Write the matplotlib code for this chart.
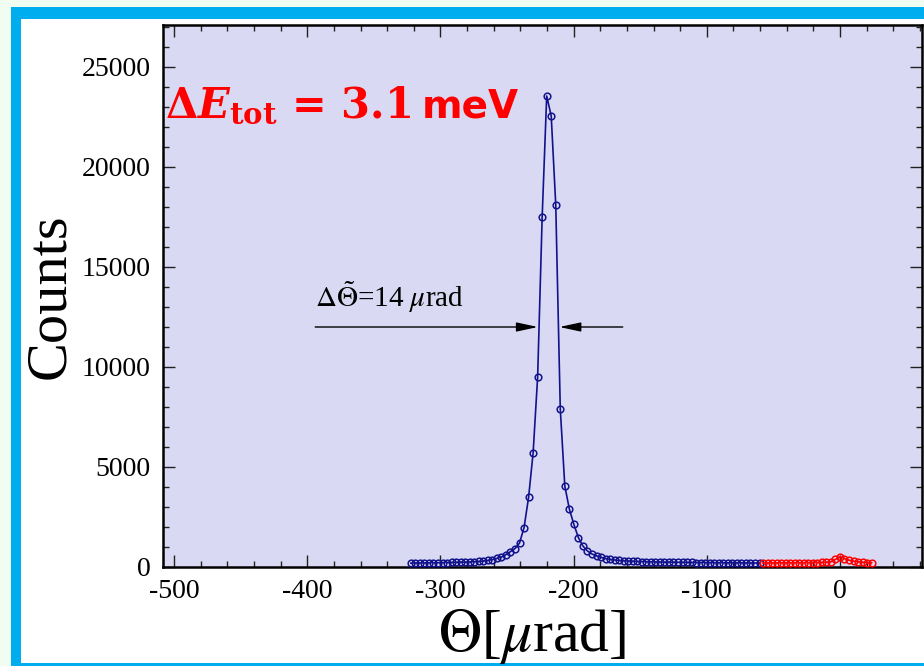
import matplotlib
matplotlib.use('Agg')
import matplotlib.pyplot as plt
import matplotlib.transforms as mtransforms
from matplotlib.patches import Rectangle
from matplotlib.ticker import MultipleLocator

plt.rcParams['font.family'] = ['Liberation Serif', 'DejaVu Serif']
plt.rcParams['mathtext.fontset'] = 'stix'
plt.rcParams['axes.unicode_minus'] = False

# Scan angle (µrad) and counts: main reflection (blue) and reference region (red)
theta_main = [-322.2, -318.8, -315.4, -312.0, -308.6, -305.2, -301.8, -298.4, -295.0, -291.6,
              -288.2, -284.8, -281.4, -278.0, -274.6, -271.2, -267.8, -264.4, -261.0, -257.6,
              -254.2, -250.8, -247.4, -244.0, -240.6, -237.2, -233.8, -230.4, -227.0, -223.6,
              -220.2, -216.8, -213.4, -210.0, -206.6, -203.2, -199.8, -196.4, -193.0, -189.6,
              -186.2, -182.8, -179.4, -176.0, -172.6, -169.2, -165.8, -162.4, -159.0, -155.6,
              -152.2, -148.8, -145.4, -142.0, -138.6, -135.2, -131.8, -128.4, -125.0, -121.6,
              -118.2, -114.8, -111.4, -108.0, -104.6, -101.2, -97.8, -94.4, -91.0, -87.6,
              -84.2, -80.8, -77.4, -74.0, -70.6, -67.2, -63.8, -60.4]
counts_main = [195, 200, 205, 205, 210, 215, 215, 220, 225, 230,
               235, 240, 245, 255, 265, 280, 300, 330, 370, 430,
               500, 620, 770, 920, 1200, 1970, 3480, 5700, 9500, 17500,
               23550, 22550, 18100, 7900, 4050, 2900, 2130, 1470, 1050, 800,
               650, 560, 480, 420, 380, 350, 330, 310, 300, 290,
               280, 270, 265, 260, 255, 250, 245, 245, 240, 235,
               235, 230, 230, 225, 225, 220, 220, 215, 215, 215,
               210, 210, 210, 205, 205, 200, 200, 200]

theta_ref = [-57.8, -54.4, -51.0, -47.6, -44.2, -40.8, -37.4, -34.0, -30.6, -27.2,
             -23.8, -20.4, -17.0, -13.6, -10.2, -6.8, -3.4, 0.0, 3.4, 6.8,
             10.2, 13.6, 17.0, 20.4, 23.8]
counts_ref = [200, 200, 205, 205, 210, 205, 210, 215, 210, 215,
              220, 225, 225, 230, 240, 260, 380, 520, 420, 340,
              290, 260, 240, 225, 215]

xticks = [-500, -400, -300, -200, -100, 0]
xticklabels = ['-500', '-400', '-300', '-200', '-100', '0']
yticks = [0, 5000, 10000, 15000, 20000, 25000]
yticklabels = ['0', '5000', '10000', '15000', '20000', '25000']

W, H = 924, 666
fig = plt.figure(figsize=(W / 100, H / 100), dpi=100)
fig.patch.set_facecolor('#f1fdf1')

# framed panel behind the axes
fig.add_artist(Rectangle((11 / W, 0), 1, 659 / H, transform=fig.transFigure,
                         facecolor='#00aeef', edgecolor='none', zorder=-10))
fig.add_artist(Rectangle((21 / W, 3 / H), 1, 644 / H, transform=fig.transFigure,
                         facecolor='white', edgecolor='none', zorder=-9))

ax = fig.add_axes([163 / W, 99 / H, (922 - 163) / W, 542 / H])
ax.set_facecolor('#d9d9f3')
ax.set_xlim(-508.3, 61.6)
ax.set_ylim(0, 27100)

ax.plot(theta_main, counts_main, color='#12128c', lw=1.2, marker='o', ms=4.8,
        mfc='none', mec='#12128c', mew=1.1, zorder=3)
ax.plot(theta_ref, counts_ref, color='#ff0000', lw=1.2, marker='o', ms=4.8,
        mfc='none', mec='#ff0000', mew=1.1, zorder=3)

ax.set_xticks(xticks)
ax.set_xticklabels(xticklabels)
ax.set_yticks(yticks)
ax.set_yticklabels(yticklabels)
ax.xaxis.set_minor_locator(MultipleLocator(20))
ax.yaxis.set_minor_locator(MultipleLocator(1000))
ax.tick_params(which='both', direction='in', top=True, right=True, width=1.0, color='#222222')
ax.tick_params(which='major', length=8.5, labelsize=20, pad=9)
ax.tick_params(which='minor', length=4.3)
for s in ax.spines.values():
    s.set_linewidth(1.8)
    s.set_color('black')

fig.text(50 / W, 1 - 296 / H, 'Counts', rotation=90, ha='center', va='center', fontsize=42)
fig.text(532 / W, 1 - 637 / H, r'$\Theta$[$\mu$rad]', ha='center', va='center', fontsize=43)

# FWHM marker
ax.text(-394, 13000, r'$\Delta\tilde{\Theta}$=14 $\mu$rad', fontsize=21, ha='left', va='baseline')
arrow_style = dict(arrowstyle='-|>,head_length=1.3,head_width=0.28', color='black', lw=1.0,
                   shrinkA=0, shrinkB=0, mutation_scale=10)
ax.annotate('', xy=(-226.8, 12000), xytext=(-394.0, 12000), arrowprops=arrow_style)
ax.annotate('', xy=(-210.7, 12000), xytext=(-163.1, 12000), arrowprops=arrow_style)

# energy resolution label
t1 = ax.text(-506.5, 22500, r'$\mathbf{\Delta}\boldsymbol{E}_{\mathbf{tot}}\mathbf{\,=\,3.1}$',
             color='red', fontsize=30, math_fontfamily='dejavuserif', ha='left', va='baseline')
fig.canvas.draw()
bb = t1.get_window_extent()
trans = mtransforms.blended_transform_factory(mtransforms.IdentityTransform(), ax.transData)
ax.text(bb.x1 + 10, 22500, 'meV', transform=trans, color='red', fontsize=28,
        fontfamily='DejaVu Sans', fontweight='bold', ha='left', va='baseline')

fig.savefig('out.png', dpi=100, facecolor=fig.get_facecolor())
